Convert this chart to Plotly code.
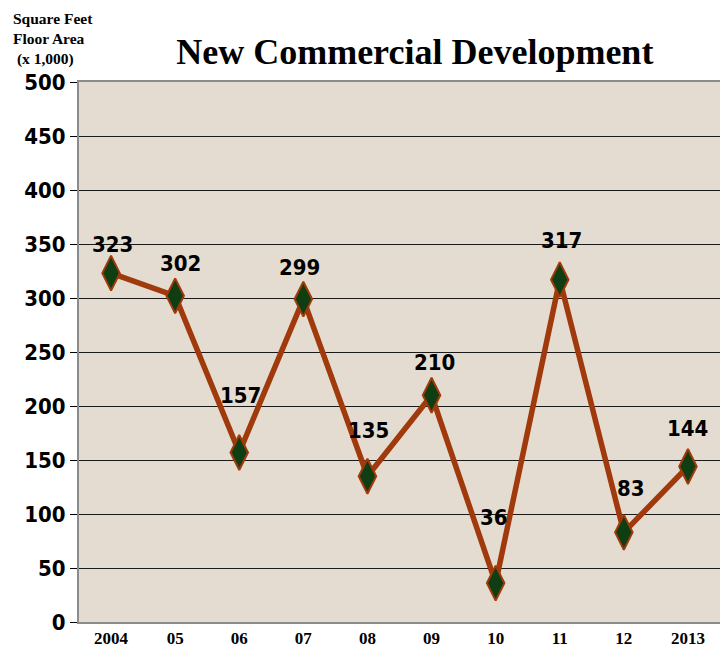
import plotly.graph_objects as go

# data
years = ["2004", "05", "06", "07", "08", "09", "10", "11", "12", "2013"]
sq_feet = [323, 302, 157, 299, 135, 210, 36, 317, 83, 144]
y_ticks = [0, 50, 100, 150, 200, 250, 300, 350, 400, 450, 500]

# how far each value label sits from its marker (px), as in the original
label_dx = [1, 5, 1, -4, 1, 3, -2, 2, 7, 0]
label_dy = [29, 32, 57, 32, 46, 33, 66, 39, 44, 38]

rust = "#A0390B"
narrow = "DejaVu Sans Condensed, sans-serif"
serif = "Liberation Serif, Times New Roman, serif"

fig = go.Figure()
fig.add_trace(go.Scatter(
    x=years, y=sq_feet,
    mode="lines+markers",
    line=dict(color=rust, width=5.5),
    marker=dict(symbol="diamond-tall", size=25, color="#0E3E12",
                line=dict(color=rust, width=2)),
    cliponaxis=False,
))

annots = []
# category axis: annotations take the category index
for i, (v, dx, dy) in enumerate(zip(sq_feet, label_dx, label_dy)):
    annots.append(dict(x=i, y=v, text=str(v), showarrow=False,
                       xanchor="center", yanchor="middle", xshift=dx, yshift=dy,
                       font=dict(family=narrow, size=22, color="black", weight="bold")))

annots.append(dict(text="Square Feet<br>Floor Area<br>&nbsp;(x 1,000)",
                   xref="paper", yref="paper", x=0.0, y=1.137,
                   xanchor="left", yanchor="top", align="left", showarrow=False,
                   xshift=-68,
                   font=dict(family=serif, size=15.5, color="black", weight="bold")))

# page body adds an 8px margin, so the figure is a bit smaller than the window
fig.update_layout(
    width=720, height=642,
    margin=dict(l=71, r=8, t=74, b=28, autoexpand=False),
    paper_bgcolor="white",
    plot_bgcolor="#E4DCD0",
    showlegend=False,
    title=dict(text="New Commercial Development", x=0.565, xanchor="center",
               y=0.932, yanchor="middle",
               font=dict(family=serif, size=36, color="black", weight="bold")),
    xaxis=dict(type="category", range=[-0.5, 9.5], showgrid=False,
               tickfont=dict(family=serif, size=17, color="black", weight="bold"),
               ticks="", showline=True, linecolor="#8C8C8C", linewidth=2, mirror=True,
               automargin=False),
    yaxis=dict(range=[0, 500], tickvals=y_ticks,
               showgrid=True, gridcolor="#1A1A1A", gridwidth=1,
               tickfont=dict(family=narrow, size=22, color="black", weight="bold"),
               ticks="outside", ticklen=7, tickcolor="black",
               showline=True, linecolor="#8C8C8C", linewidth=2, mirror=True,
               zeroline=False, automargin=False),
    annotations=annots,
)

fig.write_html("out.html")
